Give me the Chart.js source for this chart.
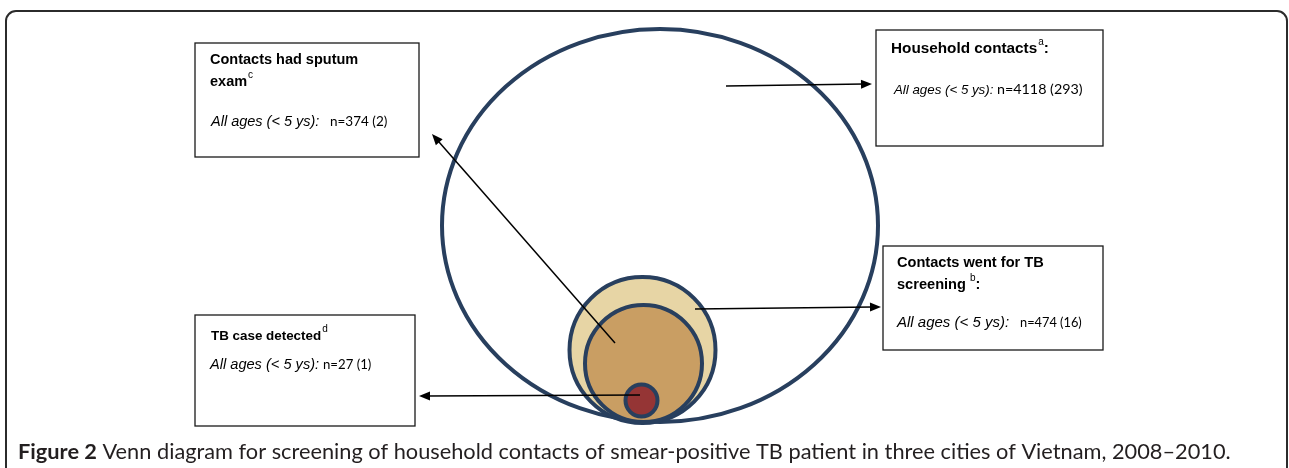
<!DOCTYPE html>
<html>
<head>
<meta charset="utf-8">
<title>Venn diagram - screening of household contacts</title>
<script src="https://cdn.jsdelivr.net/npm/chart.js@4.4.1/dist/chart.umd.min.js"></script>
<style>
  html, body { margin: 0; padding: 0; background: #fff; }
  #wrap { position: relative; width: 1289px; height: 468px; }
</style>
</head>
<body>
<div id="wrap"><canvas id="mycanvas"></canvas></div>
<script>
// sets, from the outside in
var groups = ['Household contacts', 'Contacts went for TB screening', 'Contacts had sputum exam', 'TB case detected'];
var notes = ['a', 'b', 'c', 'd'];
var allAges = [4118, 474, 374, 27];
var underFive = [293, 16, 2, 1];
var caption = ['Figure 2', ' Venn diagram for screening of household contacts of smear-positive TB patient in three cities of Vietnam, 2008\u20132010.'];

// layout (page pixels)
var rings = [
	{x: 660, y: 225.5, rx: 218, ry: 196.5},
	{x: 642.5, y: 350, r: 73},
	{x: 643.5, y: 363.5, r: 58.5},
	{x: 641.5, y: 400.5, r: 16}
];
var fills = [null, '#e7d5a5', '#c99e63', '#953535'];
var ringColor = '#283f5e';

// hs/as/ns = font sizes of heading, "All ages" and the counts
var boxes = [
	{x: 876, y: 30, w: 227, h: 116, tx: 891, ty: 53, colon: true, gap: 1, ax: 894, ay: 94, nx: 997, hs: 15.3, as: 13.3, ns: 14.3},
	{x: 883, y: 246, w: 220, h: 104, tx: 897, ty: 267, colon: true, gap: 4, ax: 897, ay: 327, nx: 1020, hs: 14.6, as: 15, ns: 12.8},
	{x: 195, y: 43, w: 224, h: 114, tx: 210, ty: 64, colon: false, gap: 1, ax: 211, ay: 126, nx: 330, hs: 14.5, as: 14.5, ns: 13.5},
	{x: 195, y: 315, w: 220, h: 111, tx: 211, ty: 340, colon: false, gap: 1, ax: 210, ay: 369, nx: 323, hs: 13.4, as: 14.6, ns: 13.2}
];
var arrows = [
	[726, 86, 872, 84],
	[695, 309, 881, 307],
	[615, 343, 432, 134],
	[640, 395, 419, 396]
];

var vennExtras = {
	id: 'vennExtras',
	beforeDatasetsDraw: function(chart) {
		var ctx = chart.ctx, sx = chart.scales.x, sy = chart.scales.y;
		var X = function(v) { return sx.getPixelForValue(v); };
		var Y = function(v) { return sy.getPixelForValue(v); };
		ctx.save();
		// outer frame
		ctx.strokeStyle = '#2b2b2b';
		ctx.lineWidth = 2;
		ctx.beginPath();
		ctx.moveTo(X(6), Y(468));
		ctx.lineTo(X(6), Y(21));
		ctx.arcTo(X(6), Y(11), X(16), Y(11), 10);
		ctx.lineTo(X(1277), Y(11));
		ctx.arcTo(X(1287), Y(11), X(1287), Y(21), 10);
		ctx.lineTo(X(1287), Y(468));
		ctx.stroke();
		// household contacts (drawn as an ellipse)
		var e = rings[0];
		ctx.strokeStyle = ringColor;
		ctx.lineWidth = 4;
		ctx.beginPath();
		ctx.ellipse(X(e.x), Y(e.y), X(e.x + e.rx) - X(e.x), Y(e.y + e.ry) - Y(e.y), 0, 0, Math.PI * 2);
		ctx.stroke();
		ctx.restore();
	},
	afterDatasetsDraw: function(chart) {
		var ctx = chart.ctx, sx = chart.scales.x, sy = chart.scales.y;
		var X = function(v) { return sx.getPixelForValue(v); };
		var Y = function(v) { return sy.getPixelForValue(v); };
		ctx.save();
		// arrows
		ctx.strokeStyle = '#000';
		ctx.fillStyle = '#000';
		ctx.lineWidth = 1.5;
		arrows.forEach(function(a) {
			var x0 = X(a[0]), y0 = Y(a[1]), x1 = X(a[2]), y1 = Y(a[3]);
			var ang = Math.atan2(y1 - y0, x1 - x0);
			ctx.beginPath();
			ctx.moveTo(x0, y0);
			ctx.lineTo(x1 - 8 * Math.cos(ang), y1 - 8 * Math.sin(ang));
			ctx.stroke();
			ctx.beginPath();
			ctx.moveTo(x1, y1);
			ctx.lineTo(x1 - 11 * Math.cos(ang) + 4.5 * Math.sin(ang), y1 - 11 * Math.sin(ang) - 4.5 * Math.cos(ang));
			ctx.lineTo(x1 - 11 * Math.cos(ang) - 4.5 * Math.sin(ang), y1 - 11 * Math.sin(ang) + 4.5 * Math.cos(ang));
			ctx.closePath();
			ctx.fill();
		});
		// label boxes
		ctx.textBaseline = 'alphabetic';
		ctx.textAlign = 'left';
		boxes.forEach(function(b, i) {
			ctx.strokeStyle = '#1a1a1a';
			ctx.lineWidth = 1.3;
			ctx.strokeRect(X(b.x), Y(b.y), X(b.x + b.w) - X(b.x), Y(b.y + b.h) - Y(b.y));
			ctx.fillStyle = '#000';
			var hfont = 'bold ' + b.hs + 'px "Liberation Sans", Arial, sans-serif';
			ctx.font = hfont;
			var words = groups[i].split(' '), lines = [], cur = '';
			words.forEach(function(w) {
				var t = cur ? cur + ' ' + w : w;
				if (cur && ctx.measureText(t).width > 165) { lines.push(cur); cur = w; } else { cur = t; }
			});
			lines.push(cur);
			var lastY = Y(b.ty);
			lines.forEach(function(ln, k) {
				lastY = Y(b.ty) + k * 22;
				ctx.fillText(ln, X(b.tx), lastY);
			});
			var lx = X(b.tx) + ctx.measureText(lines[lines.length - 1]).width + b.gap;
			ctx.font = '10px "Liberation Sans", Arial, sans-serif';
			ctx.fillText(notes[i], lx, lastY - 8);
			if (b.colon) {
				lx += ctx.measureText(notes[i]).width;
				ctx.font = hfont;
				ctx.fillText(':', lx, lastY);
			}
			ctx.font = 'italic ' + b.as + 'px "Liberation Sans", Arial, sans-serif';
			ctx.fillText('All ages (< 5 ys):', X(b.ax), Y(b.ay));
			ctx.font = b.ns + 'px Lato, "Open Sans", sans-serif';
			ctx.fillText('n=' + allAges[i] + ' (' + underFive[i] + ')', X(b.nx), Y(b.ay));
		});
		// caption
		var size = 19.5;
		ctx.font = 'bold ' + size + 'px Lato, sans-serif';
		var w0 = ctx.measureText(caption[0]).width;
		ctx.font = size + 'px Lato, sans-serif';
		var w1 = ctx.measureText(caption[1]).width;
		size = size * 1213 / (w0 + w1);
		ctx.fillStyle = '#231f20';
		ctx.font = 'bold ' + size + 'px Lato, sans-serif';
		ctx.fillText(caption[0], X(18), Y(459));
		w0 = ctx.measureText(caption[0]).width;
		ctx.font = size + 'px Lato, sans-serif';
		ctx.fillText(caption[1], X(18) + w0, Y(459));
		ctx.restore();
	}
};

var bubbles = [];
for (var i = 1; i < rings.length; i++) {
	bubbles.push({x: rings[i].x, y: rings[i].y, r: rings[i].r});
}

var ctx = document.getElementById('mycanvas');
var venn = new Chart(ctx, {
	type: 'bubble',
	data: {
		datasets: [{
			label: 'sets',
			data: bubbles,
			backgroundColor: fills.slice(1),
			borderColor: ringColor,
			borderWidth: 4,
			clip: false
		}]
	},
	options: {
		responsive: true,
		maintainAspectRatio: false,
		animation: false,
		events: [],
		layout: { padding: 0, autoPadding: false },
		plugins: { legend: { display: false }, tooltip: { enabled: false } },
		scales: {
			x: { type: 'linear', min: 0, max: 1289, display: false },
			y: { type: 'linear', min: 0, max: 468, reverse: true, display: false }
		}
	},
	plugins: [vennExtras]
});
</script>
</body>
</html>
